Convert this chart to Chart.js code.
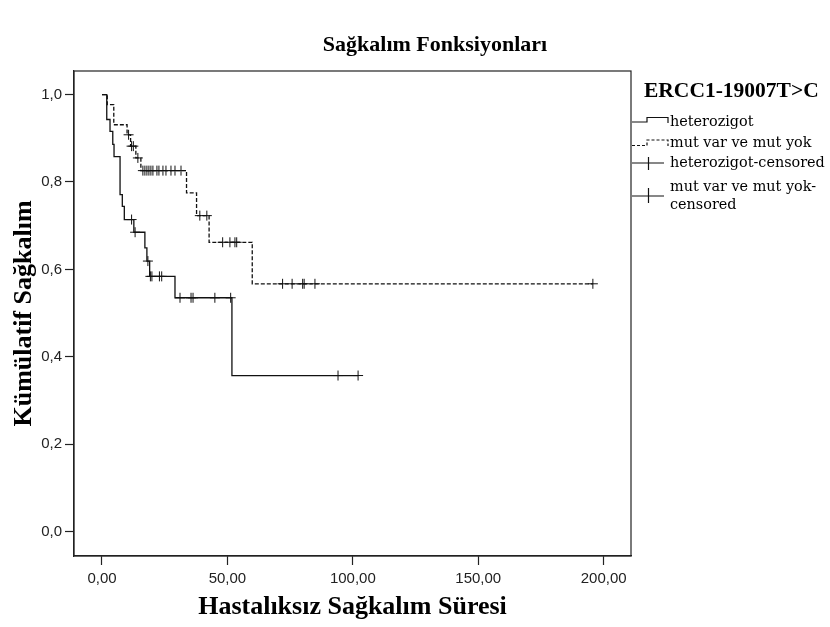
<!DOCTYPE html>
<html>
<head>
<meta charset="utf-8">
<script src="https://cdn.jsdelivr.net/npm/chart.js@4.4.0/dist/chart.umd.min.js"></script>
<style>
    html, body { margin: 0; padding: 0; background: #fff; }
    #wrap { width: 830px; height: 627px; }
</style>
</head>
<body>
<div id="wrap"><canvas id="kmChart"></canvas></div>
<script>
// Survival steps (time, cumulative survival)
const hetTimes = [0, 1.9, 3.2, 4.3, 4.8, 7.2, 8.1, 8.9, 12.7, 17.1, 17.9, 19.0, 29.1, 51.8, 102.1];
const hetSurv  = [1.0, 0.943, 0.916, 0.886, 0.858, 0.771, 0.744, 0.714, 0.685, 0.649, 0.619, 0.584, 0.535, 0.357, 0.357];
const hetCensored = [11.8, 13.2, 18.3, 19.3, 19.9, 22.9, 23.8, 31.1, 35.5, 36.3, 45.0, 51.3, 94.1, 102.1];

const mutTimes = [0, 2.1, 4.7, 10.0, 11.4, 13.5, 15.5, 33.7, 37.7, 42.7, 59.9, 195.7];
const mutSurv  = [1.0, 0.977, 0.931, 0.908, 0.882, 0.855, 0.826, 0.775, 0.723, 0.662, 0.567, 0.567];
const mutCensored = [10.6, 11.8, 12.5, 14.3, 16.3, 17.1, 17.9, 18.7, 19.5, 20.3, 21.9, 22.7, 24.3, 25.5, 27.5, 29.1, 31.5,
    39.0, 41.8, 48.1, 51.0, 53.0, 53.7, 72.0, 75.8, 80.0, 80.6, 84.9, 195.7];

const xTickValues = [0, 50, 100, 150, 200];
const yTickValues = [0, 0.2, 0.4, 0.6, 0.8, 1.0];

const legendTitle = 'ERCC1-19007T>C';
const legendLabels = ['heterozigot', 'mut var ve mut yok', 'heterozigot-censored', ['mut var ve mut yok-', 'censored']];

function toPoints(xs, ys) {
    return xs.map((x, i) => ({ x: x, y: ys[i] }));
}

// survival level in effect at time t (for placing the censor marks on the curve)
function survAt(times, surv, t) {
    let s = surv[0];
    for (let i = 0; i < times.length; i++) {
        if (times[i] <= t) s = surv[i];
    }
    return s;
}

function censorPoints(times, surv, cens) {
    return cens.map(t => ({ x: t, y: survAt(times, surv, t) }));
}

const frame = {
    id: 'frame',
    afterDatasetsDraw(chart) {
        const { ctx, chartArea: a } = chart;
        ctx.save();
        ctx.strokeStyle = '#222';
        ctx.lineWidth = 1.2;
        ctx.strokeRect(a.left, a.top, a.right - a.left, a.bottom - a.top);
        ctx.restore();
    }
};

const headerAndLegend = {
    id: 'headerAndLegend',
    afterDraw(chart) {
        const ctx = chart.ctx;
        ctx.save();
        ctx.fillStyle = '#000';
        ctx.textAlign = 'center';
        ctx.textBaseline = 'middle';
        ctx.font = 'bold 22px "Liberation Serif"';
        ctx.fillText('Sağkalım Fonksiyonları', 435, 45);

        // legend
        ctx.textAlign = 'left';
        ctx.font = 'bold 21.5px "Liberation Serif"';
        ctx.fillText(legendTitle, 644, 91);

        ctx.strokeStyle = '#111';
        ctx.lineWidth = 1.2;
        // solid step sample
        ctx.beginPath();
        ctx.moveTo(632, 122); ctx.lineTo(647, 122); ctx.lineTo(647, 117.5); ctx.lineTo(668, 117.5); ctx.lineTo(668, 123);
        ctx.stroke();
        // dashed step sample
        ctx.setLineDash([3, 2]);
        ctx.beginPath();
        ctx.moveTo(632, 145.5); ctx.lineTo(647, 145.5); ctx.lineTo(647, 140); ctx.lineTo(668, 140); ctx.lineTo(668, 146);
        ctx.stroke();
        ctx.setLineDash([]);
        // censor samples
        [[163, 157, 170], [196, 188, 203]].forEach(([y, y0, y1]) => {
            ctx.beginPath();
            ctx.moveTo(632, y); ctx.lineTo(664, y);
            ctx.moveTo(648.5, y0); ctx.lineTo(648.5, y1);
            ctx.stroke();
        });

        ctx.font = '14.4px "DejaVu Serif"';
        ctx.fillText(legendLabels[0], 670, 122);
        ctx.fillText(legendLabels[1], 670, 143);
        ctx.fillText(legendLabels[2], 670, 163);
        ctx.fillText(legendLabels[3][0], 670, 187);
        ctx.fillText(legendLabels[3][1], 670, 205);
        ctx.restore();
    }
};

const tickFont = { family: '"Liberation Sans", Arial, sans-serif', size: 15 };
const titleFont = { family: '"Liberation Serif", serif', size: 26, weight: 'bold' };

new Chart(document.getElementById('kmChart'), {
    type: 'scatter',
    data: {
        datasets: [
            {
                label: 'heterozigot',
                data: toPoints(hetTimes, hetSurv),
                showLine: true,
                stepped: true,
                borderColor: '#111',
                borderWidth: 1.3,
                pointRadius: 0
            },
            {
                label: 'mut var ve mut yok',
                data: toPoints(mutTimes, mutSurv),
                showLine: true,
                stepped: true,
                borderColor: '#111',
                borderWidth: 1.3,
                borderDash: [4, 2],
                pointRadius: 0
            },
            {
                label: 'heterozigot-censored',
                data: censorPoints(hetTimes, hetSurv, hetCensored),
                showLine: false,
                pointStyle: 'cross',
                pointRadius: 5,
                borderColor: '#111',
                borderWidth: 1
            },
            {
                label: 'mut var ve mut yok-censored',
                data: censorPoints(mutTimes, mutSurv, mutCensored),
                showLine: false,
                pointStyle: 'cross',
                pointRadius: 5,
                borderColor: '#111',
                borderWidth: 1
            }
        ]
    },
    options: {
        responsive: true,
        maintainAspectRatio: false,
        animation: false,
        layout: { padding: { top: 71, right: 199, left: 0, bottom: 0 } },
        plugins: {
            legend: { display: false },
            title: { display: false },
            tooltip: { enabled: false }
        },
        scales: {
            x: {
                type: 'linear',
                min: -11.16,
                max: 210.9,
                afterBuildTicks: s => { s.ticks = xTickValues.map(v => ({ value: v })); },
                afterFit: s => { s.height = 71; },
                ticks: {
                    callback: v => v.toFixed(2).replace('.', ','),
                    font: tickFont,
                    color: '#222',
                    padding: 5,
                    maxRotation: 0,
                    autoSkip: false
                },
                grid: { drawOnChartArea: false, drawTicks: true, tickLength: 9, tickColor: '#222', tickWidth: 1.2 },
                border: { display: true, color: '#222', width: 1.2 },
                title: { display: true, text: 'Hastalıksız Sağkalım Süresi', font: titleFont, color: '#000', padding: { top: 0, bottom: 4 } }
            },
            y: {
                type: 'linear',
                min: -0.056,
                max: 1.054,
                afterBuildTicks: s => { s.ticks = yTickValues.map(v => ({ value: v })); },
                afterFit: s => { s.width = 74; },
                ticks: {
                    callback: v => v.toFixed(1).replace('.', ','),
                    font: tickFont,
                    color: '#222',
                    padding: 3,
                    autoSkip: false
                },
                grid: { drawOnChartArea: false, drawTicks: true, tickLength: 9, tickColor: '#222', tickWidth: 1.2 },
                border: { display: true, color: '#222', width: 1.2 },
                title: { display: true, text: 'Kümülatif Sağkalım', font: titleFont, color: '#000', padding: { top: 9, bottom: 0 } }
            }
        }
    },
    plugins: [frame, headerAndLegend]
});
</script>
</body>
</html>
